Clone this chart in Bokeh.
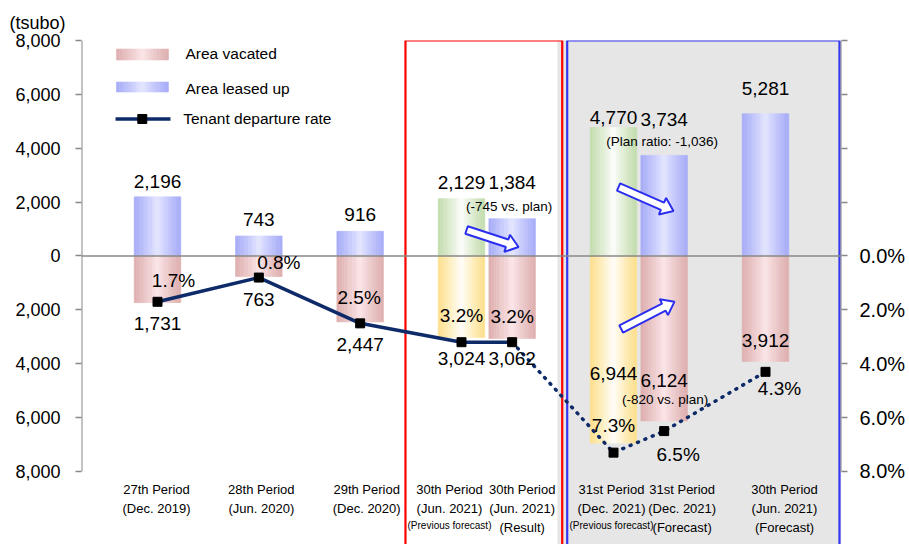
import numpy as np
from bokeh.plotting import figure
from bokeh.models import Range1d, FixedTicker, LinearAxis, ColumnDataSource
from bokeh.core.properties import value
from bokeh.embed import file_html
from bokeh.resources import INLINE

# ---------------- data ----------------
period_line1 = ["27th Period", "28th Period", "29th Period", "30th Period", "30th Period",
                "31st Period", "31st Period", "30th Period"]
period_line2 = ["(Dec. 2019)", "(Jun. 2020)", "(Dec. 2020)", "(Jun. 2021)", "(Jun. 2021)",
                "(Dec. 2021)", "(Dec. 2021)", "(Jun. 2021)"]
period_line3 = ["", "", "", "(Previous forecast)", "(Result)", "(Previous forecast)",
                "(Forecast)", "(Forecast)"]
is_previous_forecast = [False, False, False, True, False, True, False, False]
area_leased_up = [2196, 743, 916, 2129, 1384, 4770, 3734, 5281]
area_vacated = [1731, 763, 2447, 3024, 3062, 6944, 6124, 3912]
departure_rate = [1.7, 0.8, 2.5, 3.2, 3.2, 7.3, 6.5, 4.3]
leased_notes = ["", "", "", "", "(-745 vs. plan)", "", "(Plan ratio: -1,036)", ""]
vacated_notes = ["", "", "", "", "", "", "(-820 vs. plan)", ""]
left_ticks = [-8000, -6000, -4000, -2000, 0, 2000, 4000, 6000, 8000]

# ---------------- layout ----------------
W, H = 909, 544
FL, FR, FT = 81, 68, 40
X0, X1 = 0.0, 7.5
Y0, Y1 = -10710, 8000
slot = [0.75, 1.75, 2.75, 3.75, 4.25, 5.25, 5.75, 6.75]   # category positions
BW = 0.46
SX = (W - FL - FR) / (X1 - X0)
SY = (H - FT) / (Y1 - Y0)
FONT = "Liberation Sans"

p = figure(width=W, height=H, x_range=Range1d(X0, X1), y_range=Range1d(Y0, Y1),
           output_backend="svg", toolbar_location=None, x_axis_location=None,
           min_border_left=FL, min_border_right=FR, min_border_top=FT, min_border_bottom=0)
p.outline_line_color = None
p.xgrid.visible = False
p.ygrid.visible = False
p.background_fill_color = "white"
p.border_fill_color = "white"

p.title.text = "(tsubo)"
p.title.align = "left"
p.title.offset = -72
p.title.text_font = FONT
p.title.text_font_size = "18px"
p.title.text_font_style = "normal"
p.title.text_color = "black"
p.title.standoff = 16
p.title.text_line_height = 0.8

# shaded forecast area and boxes
p.quad(left=[4.697], right=[X1], bottom=[Y0 - 1000], top=[Y1 + 1000],
       fill_color="#e6e6e6", line_color=None)
p.quad(left=[3.197], right=[4.744], bottom=[Y0 - 2000], top=[8000],
       fill_color=None, line_color="#ff0000", line_width=2.2)
p.quad(left=[4.793], right=[7.48], bottom=[Y0 - 2000], top=[8000],
       fill_color=None, line_color="#3636f2", line_width=2.2)


def rgb(h):
    return [int(h[i:i + 2], 16) for i in (1, 3, 5)]


def gradient_quads(xc, bottoms, tops, edges, centers, width, n=18):
    L, R, B, T, C = [], [], [], [], []
    for x, b, t, ec, cc in zip(xc, bottoms, tops, edges, centers):
        e, c = rgb(ec), rgb(cc)
        for i in range(n):
            f = abs((i + 0.5) / n * 2 - 1) ** 0.85
            col = "#%02x%02x%02x" % tuple(round(c[k] + (e[k] - c[k]) * f) for k in range(3))
            L.append(x - width / 2 + i * width / n)
            R.append(x - width / 2 + (i + 1) * width / n)
            B.append(b)
            T.append(t)
            C.append(col)
    p.quad(left=L, right=R, bottom=B, top=T, fill_color=C, line_color=C, line_width=0.6)


BLUE_E, BLUE_C = "#a6abf8", "#e6e8ff"
PINK_E, PINK_C = "#ddaeae", "#fde8ea"
GREEN_E, GREEN_C = "#c2dcab", "#ffffff"
YEL_E, YEL_C = "#fde08a", "#ffffff"

gradient_quads(slot, [0] * 8, area_leased_up,
               [GREEN_E if f else BLUE_E for f in is_previous_forecast],
               [GREEN_C if f else BLUE_C for f in is_previous_forecast], BW)
gradient_quads(slot, [-v for v in area_vacated], [0] * 8,
               [YEL_E if f else PINK_E for f in is_previous_forecast],
               [YEL_C if f else PINK_C for f in is_previous_forecast], BW)

# zero line and axis lines
p.segment(x0=[X0], y0=[0], x1=[X1], y1=[0], line_color="#888888", line_width=1.5)
p.segment(x0=[X0, X1], y0=[-8000, -8000], x1=[X0, X1], y1=[8000, 8000],
          line_color="#888888", line_width=2)

# tenant departure rate line
rate_y = [-r * 1000 for r in departure_rate]
LINE_C = "#0e2a68"
p.line(slot[:5], rate_y[:5], line_color=LINE_C, line_width=3.5)
p.line(slot[4:], rate_y[4:], line_color=LINE_C, line_width=3.5,
       line_dash="1 7", line_cap="round")
p.scatter(slot, rate_y, marker="square", size=9, fill_color="black", line_color="black")

# arrows


def block_arrow(x0, y0, x1, y1, shaft=4.0, head=9.0, head_len=12.0):
    a = np.array([x0 * SX, y0 * SY])
    b = np.array([x1 * SX, y1 * SY])
    d = b - a
    u = d / np.hypot(*d)
    nr = np.array([-u[1], u[0]])
    hb = b - u * head_len
    pts = [a + nr * shaft, hb + nr * shaft, hb + nr * head, b,
           hb - nr * head, hb - nr * shaft, a - nr * shaft]
    return [q[0] / SX for q in pts], [q[1] / SY for q in pts]


arrows = [block_arrow(3.80, 965, 4.313, 334),
          block_arrow(5.30, 2561, 5.842, 1670),
          block_arrow(5.326, -2710, 5.852, -1696)]
p.patches([a[0] for a in arrows], [a[1] for a in arrows], fill_color="white",
          line_color="#2b2ef0", line_width=2)


def texts(xs, ys, labels, size, xo=None, yo=None, align="center", baseline="middle", font=FONT):
    n = len(xs)
    src = ColumnDataSource(dict(x=xs, y=ys, t=labels,
                                xo=xo if xo is not None else [0] * n,
                                yo=yo if yo is not None else [0] * n))
    p.text(x="x", y="y", text="t", x_offset="xo", y_offset="yo", source=src,
           text_align=align, text_baseline=baseline, text_font=value(font),
           text_font_size=value(size), text_color="black")


# leased labels
texts(slot, area_leased_up, [f"{v:,}" for v in area_leased_up], "19px",
      yo=[-15, -16, -17, -16, -36, -10, -36, -25])
texts(slot, area_leased_up, leased_notes, "13.5px",
      xo=[0, 0, 0, 0, -3, 0, -2, 0], yo=[0, 0, 0, 0, -12, 0, -14, 0])
# vacated labels
neg = [-v for v in area_vacated]
texts(slot, neg, [f"{v:,}" for v in area_vacated], "19px",
      yo=[21, 23, 23, 21, 20, -70, -40, -21])
texts(slot, neg, vacated_notes, "13.5px", xo=[0, 0, 0, 0, 0, 0, 1, 0],
      yo=[0, 0, 0, 0, 0, 0, -21, 0])
# rate labels
texts(slot, rate_y, [f"{r:.1f}%" for r in departure_rate], "19px",
      xo=[16, 20, -1, 0, 0, 0, 14, 14], yo=[-21, -15, -26, -27, -26, -27, 23, 17])

# category labels
base = [-8000] * 8
cat_xo = [-1, 2.5, 6.5, -12, 10, -2, 18, 19]
texts(slot, base, period_line1, "13px", xo=cat_xo, yo=[18] * 8)
texts(slot, base, period_line2, "13px", xo=cat_xo, yo=[37] * 8)
l3_small = [t if t == "(Previous forecast)" else "" for t in period_line3]
l3_big = [t if t != "(Previous forecast)" else "" for t in period_line3]
texts(slot, base, l3_small, "10px", xo=cat_xo, yo=[54] * 8)
texts(slot, base, l3_big, "13px", xo=cat_xo, yo=[56] * 8)

# legend (manual, in the upper-left of the plot area)
gradient_quads([0.6015], [7276], [7684], [PINK_E], [PINK_C], 0.513)
gradient_quads([0.6015], [6088], [6459], [BLUE_E], [BLUE_C], 0.513)
p.line([0.336, 0.878], [5086, 5086], line_color=LINE_C, line_width=3.5)
p.scatter([0.60], [5086], marker="square", size=9, fill_color="black", line_color="black")
texts([1.026, 1.026, 1.004], [7499, 6200, 5086],
      ["Area vacated", "Area leased up", "Tenant departure rate"], "15.5px", align="left")

# axes
p.yaxis.ticker = FixedTicker(ticks=left_ticks)
p.yaxis.major_label_overrides = {t: f"{abs(t):,}" for t in left_ticks}
for ax in p.yaxis:
    ax.axis_line_color = None
    ax.major_tick_line_color = "#888888"
    ax.major_tick_line_width = 1.5
    ax.major_tick_out = 6
    ax.major_tick_in = 0
    ax.minor_tick_line_color = None
    ax.major_label_standoff = 15
    ax.major_label_text_font = FONT
    ax.major_label_text_font_size = "18px"
    ax.major_label_text_color = "black"

right_ticks = left_ticks
rax = LinearAxis(ticker=FixedTicker(ticks=right_ticks))
rax.major_label_overrides = {t: (f"{abs(t) / 1000:.1f}%" if t <= 0 else "") for t in right_ticks}
rax.axis_line_color = None
rax.major_tick_line_color = "#888888"
rax.major_tick_line_width = 1.5
rax.major_tick_out = 6
rax.major_tick_in = 0
rax.minor_tick_line_color = None
rax.major_label_standoff = 12
rax.major_label_text_font = FONT
rax.major_label_text_font_size = "20px"
rax.major_label_text_color = "black"
p.add_layout(rax, "right")

open("out.html", "w").write(file_html(p, INLINE))
